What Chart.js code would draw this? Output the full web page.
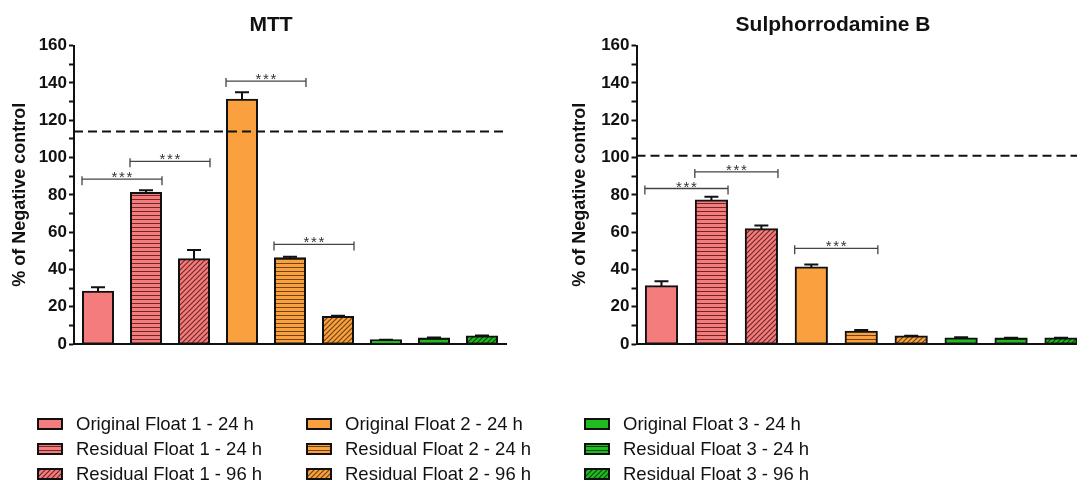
<!DOCTYPE html>
<html>
<head>
<meta charset="utf-8">
<script src="https://cdn.jsdelivr.net/npm/chart.js@4/dist/chart.umd.min.js"></script>
<style>
  html, body { margin: 0; padding: 0; background: #fff; overflow: hidden; }
  body { width: 1077px; height: 483px; position: relative; font-family: "Liberation Sans", Arial, sans-serif; }
  #mtt { position: absolute; left: 0; top: 0; }
  #srb { position: absolute; left: 540px; top: 0; }
  .lg { position: absolute; top: 411px; }
  .lg div { height: 25px; display: flex; align-items: center; font-size: 18.5px; color: #111; white-space: nowrap; }
  .lg canvas { margin-right: 13px; }
</style>
</head>
<body>
<canvas id="mtt" width="542" height="360"></canvas>
<canvas id="srb" width="586" height="360"></canvas>
<div class="lg" id="lg0" style="left:37px"></div>
<div class="lg" id="lg1" style="left:306px"></div>
<div class="lg" id="lg2" style="left:584px"></div>

<script>
// % of negative control, MTT vs SRB
const categories = [
  'Original Float 1 - 24 h', 'Residual Float 1 - 24 h', 'Residual Float 1 - 96 h',
  'Original Float 2 - 24 h', 'Residual Float 2 - 24 h', 'Residual Float 2 - 96 h',
  'Original Float 3 - 24 h', 'Residual Float 3 - 24 h', 'Residual Float 3 - 96 h',
];

const mttValues = [28, 81, 45.5, 131, 46, 14.5, 2, 3, 4];
const mttErrors = [2.4, 1.5, 4.9, 4, 0.8, 0.6, 0.3, 0.5, 0.5];
const mttControl = 114;
// [from bar, to bar, height]
const mttBrackets = [[0, 1, 88.4], [1, 2, 98], [3, 4, 141], [4, 5, 53.4]];

const srbValues = [31, 77, 61.6, 41, 6.6, 4, 3, 3, 3];
const srbErrors = [2.7, 2, 2, 1.7, 0.9, 0.4, 0.6, 0.4, 0.4];
const srbControl = 101;
const srbBrackets = [[0, 1, 83.4], [1, 2, 92.3], [3, 4, 51.3]];

const yMin = 0, yMax = 160, yMajor = 20, yMinor = 10;

// styles
const baseCol = ['#F47C7C', '#F47C7C', '#F47C7C', '#FBA03E', '#FBA03E', '#FBA03E', '#20BB20', '#20BB20', '#20BB20'];
const darkCol = ['#6E2828', '#6E2828', '#6E2828', '#6E4410', '#6E4410', '#6E4410', '#0B450B', '#0B450B', '#0B450B'];
const fillKind = ['', 'h', 'd', '', 'h', 'd', '', 'h', 'd'];

const FONT = '"Liberation Sans", Arial, sans-serif';
const INK = '#111';

function pattern(base, dark, kind) {
  if (!kind) return base;
  const s = kind === 'h' ? 4 : 5;
  const c = document.createElement('canvas');
  c.width = c.height = s;
  const g = c.getContext('2d');
  g.fillStyle = base;
  g.fillRect(0, 0, s, s);
  if (kind === 'h') {
    g.fillStyle = dark;
    g.fillRect(0, s - 1, s, 1);
  } else {
    g.strokeStyle = dark;
    g.lineWidth = 1.2;
    g.beginPath();
    g.moveTo(0, s); g.lineTo(s, 0);
    g.moveTo(-1, 1); g.lineTo(1, -1);
    g.moveTo(s - 1, s + 1); g.lineTo(s + 1, s - 1);
    g.stroke();
  }
  return g.createPattern(c, 'repeat');
}

const fills = categories.map((_, i) => pattern(baseCol[i], darkCol[i], fillKind[i]));

// error bars, control line, significance brackets
const overlay = {
  id: 'overlay',
  afterDatasetsDraw(chart) {
    const o = chart.options.plugins.overlay;
    const { ctx, chartArea: a, scales: { y } } = chart;
    const bars = chart.getDatasetMeta(0).data;
    const vals = chart.data.datasets[0].data;
    ctx.save();

    ctx.strokeStyle = INK;
    ctx.lineWidth = 2;
    bars.forEach((b, i) => {
      const top = y.getPixelForValue(vals[i] + o.errors[i]);
      ctx.beginPath();
      ctx.moveTo(b.x, b.y);
      ctx.lineTo(b.x, top);
      ctx.moveTo(b.x - 7, top);
      ctx.lineTo(b.x + 7, top);
      ctx.stroke();
    });

    const cy = y.getPixelForValue(o.control);
    ctx.setLineDash([9, 5]);
    ctx.beginPath();
    ctx.moveTo(a.left, cy);
    ctx.lineTo(a.right, cy);
    ctx.stroke();
    ctx.setLineDash([]);

    ctx.strokeStyle = '#444';
    ctx.fillStyle = '#333';
    ctx.lineWidth = 1.3;
    ctx.font = '15px ' + FONT;
    ctx.textAlign = 'center';
    ctx.textBaseline = 'alphabetic';
    o.brackets.forEach(([i, j, lv]) => {
      const x1 = bars[i].x - bars[i].width / 2 - 1;
      const x2 = bars[j].x + bars[j].width / 2 + 1;
      const by = y.getPixelForValue(lv);
      ctx.beginPath();
      ctx.moveTo(x1, by); ctx.lineTo(x2, by);
      ctx.moveTo(x1, by - 3); ctx.lineTo(x1, by + 6);
      ctx.moveTo(x2, by - 3); ctx.lineTo(x2, by + 6);
      ctx.stroke();
      const mx = (x1 + x2) / 2;
      [-7.5, 0, 7.5].forEach(d => ctx.fillText('*', mx + d, by + 3));
    });
    ctx.restore();
  },
};

function makeChart(id, title, values, errors, control, brackets, axisW, titlePad, rightW) {
  return new Chart(document.getElementById(id), {
    type: 'bar',
    data: {
      labels: categories,
      datasets: [{
        data: values,
        backgroundColor: fills,
        borderColor: INK,
        borderWidth: 2,
        borderSkipped: false,
        inflateAmount: 1,
        barPercentage: 0.625,
        categoryPercentage: 1,
      }],
    },
    options: {
      responsive: false,
      animation: false,
      layout: { padding: { left: 0, right: 0, top: 0, bottom: 16 } },
      plugins: {
        legend: { display: false },
        tooltip: { enabled: false },
        title: {
          display: true, text: title, color: INK,
          font: { family: FONT, size: 21, weight: 'bold', lineHeight: 1.2 },
          padding: { top: 12.4, bottom: 8.1 },
        },
        overlay: { errors, control, brackets },
      },
      scales: {
        x: {
          grid: { display: false },
          ticks: { display: false },
          border: { color: INK, width: 2 },
          afterFit: s => { s.height = 0; },
        },
        y: {
          min: yMin, max: yMax,
          ticks: {
            stepSize: yMinor, autoSkip: false, color: INK, padding: 2,
            font: { family: FONT, size: 17, weight: 'bold' },
            callback: v => v % yMajor === 0 ? v : '',
          },
          grid: { drawOnChartArea: false, tickLength: 5, tickWidth: 2, tickColor: INK },
          border: { color: INK, width: 2 },
          title: {
            display: true, text: '% of Negative control', color: INK,
            font: { family: FONT, size: 18, weight: 'bold', lineHeight: 1.2 },
            padding: { top: titlePad, bottom: 0 },
          },
          afterFit: s => { s.width = axisW; },
        },
        // empty spacer on the right so the title centres over the whole panel
        pad: {
          position: 'right', display: true,
          grid: { display: false }, ticks: { display: false }, border: { display: false },
          afterFit: s => { s.width = rightW; },
        },
      },
    },
    plugins: [overlay],
  });
}

makeChart('mtt', 'MTT', mttValues, mttErrors, mttControl, mttBrackets, 74, 9, 36);
makeChart('srb', 'Sulphorrodamine B', srbValues, srbErrors, srbControl, srbBrackets, 96.5, 29, 40);

// legend, three columns
categories.forEach((name, i) => {
  const row = document.createElement('div');
  const sw = document.createElement('canvas');
  sw.width = 26; sw.height = 12;
  const g = sw.getContext('2d');
  g.fillStyle = fills[i];
  g.fillRect(0, 0, 26, 12);
  g.strokeStyle = INK;
  g.lineWidth = 2;
  g.strokeRect(1, 1, 24, 10);
  row.appendChild(sw);
  row.appendChild(document.createTextNode(name));
  document.getElementById('lg' + Math.floor(i / 3)).appendChild(row);
});
</script>
</body>
</html>
